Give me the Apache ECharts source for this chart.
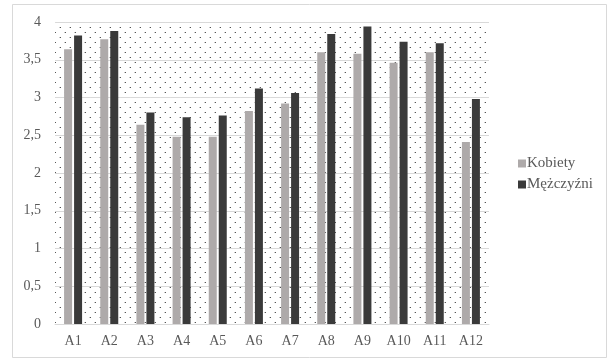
<!DOCTYPE html>
<html><head><meta charset="utf-8">
<script src="https://cdn.jsdelivr.net/npm/echarts@6/dist/echarts.min.js"></script>
<style>html,body{margin:0;padding:0;background:#fff}#c{width:608px;height:360px}</style>
</head><body><div id="c"></div>
<script>
const categories = ['A1','A2','A3','A4','A5','A6','A7','A8','A9','A10','A11','A12'];
const kobiety = [3.64,3.77,2.64,2.48,2.48,2.82,2.92,3.60,3.58,3.46,3.60,2.41];
const mezczyzni = [3.82,3.88,2.80,2.74,2.76,3.12,3.06,3.84,3.94,3.74,3.72,2.98];
const seriesNames = ['Kobiety','Mężczyźni'];

const tile = document.createElement('canvas');
tile.width = 10; tile.height = 10;
const tc = tile.getContext('2d');
tc.fillStyle = '#ffffff'; tc.fillRect(0,0,10,10);
tc.fillStyle = '#555'; tc.fillRect(5,2,1,1); tc.fillRect(0,7,1,1);
tc.fillStyle = '#c8c8c8'; tc.fillRect(4,2,1,1); tc.fillRect(9,7,1,1);

const font = '"Liberation Serif", "Times New Roman", serif';
const chart = echarts.init(document.getElementById('c'));
chart.setOption({
  animation: false,
  backgroundColor: '#fff',
  grid: { left: 55, right: 119, top: 22, bottom: 36, show: true,
    backgroundColor: { image: tile, repeat: 'repeat' }, borderWidth: 0 },
  graphic: [{ type: 'rect', shape: { x: 12.5, y: 4.5, width: 594, height: 353 },
    style: { fill: 'none', stroke: '#d9d9d9', lineWidth: 1 }, z: -1 }],
  legend: { orient: 'vertical', left: 513, top: 151, itemWidth: 8, itemHeight: 8, itemGap: 6,
    icon: 'rect', textStyle: { fontFamily: font, fontSize: 15, color: '#595959', padding: [0,0,0,-4] },
    data: seriesNames },
  xAxis: { type: 'category', data: categories,
    axisLine: { lineStyle: { color: '#d9d9d9', width: 1 } }, axisTick: { show: false },
    axisLabel: { fontFamily: font, fontSize: 14, color: '#595959', margin: 10 } },
  yAxis: { type: 'value', min: 0, max: 4, interval: 0.5,
    axisLine: { show: false }, axisTick: { show: false },
    splitLine: { lineStyle: { color: '#d9d9d9', width: 1 } },
    axisLabel: { fontFamily: font, fontSize: 14, color: '#595959', margin: 14,
      formatter: v => String(v).replace('.', ',') } },
  series: [
    { name: seriesNames[0], type: 'bar', data: kobiety, barWidth: 8, barGap: '25%',
      itemStyle: { color: '#aeaaaa' } },
    { name: seriesNames[1], type: 'bar', data: mezczyzni, barWidth: 8,
      itemStyle: { color: '#3a3a3a' } }
  ]
});
</script></body></html>
